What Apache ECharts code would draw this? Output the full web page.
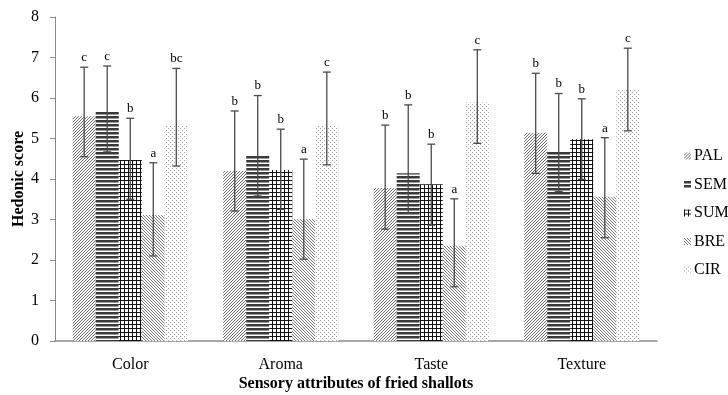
<!DOCTYPE html>
<html>
<head>
<meta charset="utf-8">
<script src="https://cdn.jsdelivr.net/npm/echarts@6/dist/echarts.min.js"></script>
<style>html,body{margin:0;padding:0;background:#fff}#c{width:728px;height:395px}</style>
</head>
<body>
<div id="c"></div>
<script>
var categories = ['Color', 'Aroma', 'Taste', 'Texture'];
var seriesNames = ['PAL', 'SEM', 'SUM', 'BRE', 'CIR'];
var yTicks = [0, 1, 2, 3, 4, 5, 6, 7, 8];
// mean scores
var PAL = [5.55, 4.20, 3.78, 5.14];
var SEM = [5.66, 4.57, 4.14, 4.69];
var SUM = [4.47, 4.22, 3.87, 4.98];
var BRE = [3.11, 3.01, 2.35, 3.56];
var CIR = [5.32, 5.31, 5.89, 6.20];
// error bar upper / lower ends
var PAL_hi = [6.76, 5.68, 5.33, 6.61], PAL_lo = [4.55, 3.21, 2.76, 4.14];
var SEM_hi = [6.79, 6.06, 5.83, 6.11], SEM_lo = [4.67, 3.58, 3.15, 3.69];
var SUM_hi = [5.50, 5.23, 4.86, 5.98], SUM_lo = [3.50, 3.25, 2.86, 3.99];
var BRE_hi = [4.40, 4.49, 3.51, 5.02], BRE_lo = [2.10, 2.02, 1.34, 2.55];
var CIR_hi = [6.73, 6.64, 7.19, 7.23], CIR_lo = [4.32, 4.35, 4.88, 5.19];
// significance letters
var PAL_sig = ['c', 'b', 'b', 'b'];
var SEM_sig = ['c', 'b', 'b', 'b'];
var SUM_sig = ['b', 'b', 'b', 'b'];
var BRE_sig = ['a', 'a', 'a', 'a'];
var CIR_sig = ['bc', 'c', 'c', 'c'];

var means = [PAL, SEM, SUM, BRE, CIR];
var highs = [PAL_hi, SEM_hi, SUM_hi, BRE_hi, CIR_hi];
var lows = [PAL_lo, SEM_lo, SUM_lo, BRE_lo, CIR_lo];
var sigs = [PAL_sig, SEM_sig, SUM_sig, BRE_sig, CIR_sig];

var FONT = '"Liberation Serif", "Times New Roman", serif';

function makePattern(kind) {
  var c = document.createElement('canvas');
  var s = (kind === 'grid' || kind === 'dots' || kind === 'hline') ? 4 : 3;
  c.width = s; c.height = s;
  var g = c.getContext('2d');
  g.fillStyle = '#fff';
  g.fillRect(0, 0, s, s);
  if (kind === 'fwd' || kind === 'back') {
    g.fillStyle = kind === 'fwd' ? '#6a6a6a' : '#777';
    for (var i = 0; i < s; i++) {
      var x = kind === 'fwd' ? (s - 1 - i) : i;
      g.fillRect(x, i, 1, 1);
    }
  } else if (kind === 'hline') {
    g.fillStyle = '#3a3a3a';
    g.fillRect(0, 0, s, 2);
    g.fillStyle = '#9a9a9a';
    g.fillRect(0, 2, s, 1);
  } else if (kind === 'grid') {
    g.fillStyle = '#111';
    g.fillRect(0, 0, s, 1);
    g.fillRect(0, 0, 1, s);
  } else if (kind === 'dots') {
    g.fillStyle = '#9a9a9a';
    g.fillRect(0, 0, 1, 1);
    g.fillRect(2, 2, 1, 1);
  }
  return { image: c, repeat: 'repeat' };
}
var patterns = [makePattern('fwd'), makePattern('hline'), makePattern('grid'), makePattern('back'), makePattern('dots')];

var GAP = 0.235;
var series = [];
seriesNames.forEach(function (name, si) {
  series.push({
    name: name,
    type: 'bar',
    data: means[si],
    barGap: '0%',
    barCategoryGap: (GAP * 100) + '%',
    itemStyle: { color: patterns[si] },
    emphasis: { disabled: true },
    z: 2
  });
});
var errData = [];
for (var si = 0; si < 5; si++) {
  for (var ci = 0; ci < categories.length; ci++) {
    errData.push([ci, highs[si][ci], lows[si][ci], si, sigs[si][ci]]);
  }
}
series.push({
  type: 'custom',
  name: 'err',
  data: errData,
  z: 5,
  silent: true,
  encode: { x: 0, y: [1, 2] },
  renderItem: function (params, api) {
    var ci = api.value(0), hi = api.value(1), lo = api.value(2), si = api.value(3);
    var band = api.size([1, 0])[0];
    var groupW = band * (1 - GAP);
    var bw = groupW / 5;
    var center = api.coord([ci, 0])[0];
    var x = center - groupW / 2 + bw * (si + 0.5);
    var yh = api.coord([ci, hi])[1];
    var yl = api.coord([ci, lo])[1];
    var cap = 4;
    var st = { stroke: '#4a4a4a', lineWidth: 1.3 };
    return {
      type: 'group',
      children: [
        { type: 'line', shape: { x1: x, y1: yh, x2: x, y2: yl }, style: st },
        { type: 'line', shape: { x1: x - cap, y1: yh, x2: x + cap, y2: yh }, style: st },
        { type: 'line', shape: { x1: x - cap, y1: yl, x2: x + cap, y2: yl }, style: st },
        { type: 'text', style: { text: errData[params.dataIndex][4], x: x, y: yh - 3, textAlign: 'center', textVerticalAlign: 'bottom', font: '13px ' + FONT, fill: '#000' } }
      ]
    };
  }
});

var chart = echarts.init(document.getElementById('c'), null, { renderer: 'canvas' });
chart.setOption({
  animation: false,
  backgroundColor: '#fff',
  grid: { left: 55, right: 71, top: 17, bottom: 54, containLabel: false, outerBoundsMode: 'none' },
  legend: {
    orient: 'vertical',
    left: 679,
    top: 143,
    itemWidth: 7,
    itemHeight: 7,
    itemGap: 12.5,
    icon: 'rect',
    data: seriesNames,
    textStyle: { fontFamily: FONT, fontSize: 16, lineHeight: 16, color: '#000', padding: [0, 0, 0, -2] },
    selectedMode: false
  },
  xAxis: {
    type: 'category',
    data: categories,
    name: 'Sensory attributes of fried shallots',
    nameLocation: 'middle',
    nameGap: 35,
    nameMoveOverlap: false,
    nameTextStyle: { fontFamily: FONT, fontSize: 16, fontWeight: 'bold', color: '#000' },
    axisLine: { lineStyle: { color: '#8a8a8a', width: 1.5 } },
    axisTick: { show: false },
    axisLabel: { fontFamily: FONT, fontSize: 16, color: '#000', margin: 16 }
  },
  yAxis: {
    type: 'value',
    min: yTicks[0],
    max: yTicks[yTicks.length - 1],
    interval: 1,
    name: 'Hedonic score',
    nameLocation: 'middle',
    nameGap: 28,
    nameMoveOverlap: false,
    nameTextStyle: { fontFamily: FONT, fontSize: 16, fontWeight: 'bold', color: '#000' },
    axisLine: { show: true, lineStyle: { color: '#8a8a8a', width: 1 } },
    axisTick: { show: true, length: 5, lineStyle: { color: '#8a8a8a' } },
    splitLine: { show: false },
    axisLabel: { fontFamily: FONT, fontSize: 16, color: '#000', margin: 16 }
  },
  series: series
});
</script>
</body>
</html>
